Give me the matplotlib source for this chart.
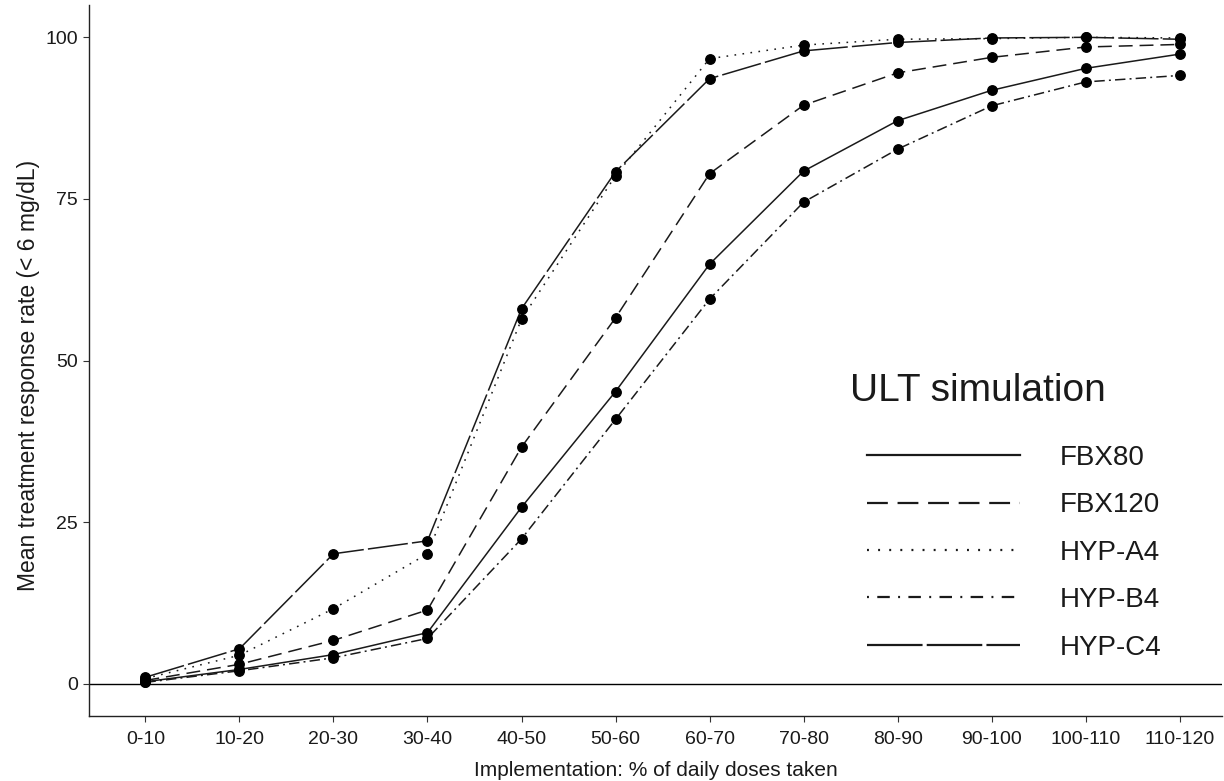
import matplotlib
matplotlib.use("Agg")
import matplotlib.pyplot as plt
from matplotlib.lines import Line2D

plt.rcParams["font.family"] = ["Liberation Sans", "DejaVu Sans"]
plt.rcParams["lines.scale_dashes"] = False

categories = ["0-10", "10-20", "20-30", "30-40", "40-50", "50-60",
              "60-70", "70-80", "80-90", "90-100", "100-110", "110-120"]

fbx80 = [0.3, 2.2, 4.5, 7.9, 27.3, 45.2, 64.9, 79.3, 87.1, 91.8, 95.2, 97.4]
fbx120 = [0.5, 3.0, 6.7, 11.4, 36.6, 56.6, 78.9, 89.5, 94.5, 96.9, 98.5, 98.9]
hyp_a4 = [0.8, 4.4, 11.6, 20.1, 56.4, 78.6, 96.7, 98.8, 99.7, 99.8, 100.0, 99.9]
hyp_b4 = [0.2, 2.0, 4.0, 7.0, 22.4, 40.9, 59.5, 74.5, 82.7, 89.4, 93.1, 94.1]
hyp_c4 = [1.0, 5.4, 20.1, 22.1, 58.0, 79.2, 93.6, 97.9, 99.2, 99.9, 100.0, 99.7]

series_names = ["FBX80", "FBX120", "HYP-A4", "HYP-B4", "HYP-C4"]
series_values = [fbx80, fbx120, hyp_a4, hyp_b4, hyp_c4]

# dash patterns (points, on/off)
dash_styles = [
    None,
    (0, (10, 5)),
    (0, (1.2, 4.6)),
    (0, (7.5, 3, 1.4, 3)),
    (0, (29, 3)),
]
legend_dash_styles = [
    None,
    (0, (15, 7)),
    (0, (1.4, 6.6)),
    (0, (1.4, 6, 9, 6)),
    (0, (40, 3)),
]

W, H = 1224, 781
fig = plt.figure(figsize=(W / 100, H / 100), dpi=100)
ax = fig.add_axes([89 / W, 65 / H, (1222 - 89) / W, (776 - 65) / H])

x = list(range(len(categories)))
lw = 1.1
for name, vals, ds in zip(series_names, series_values, dash_styles):
    ls = "-" if ds is None else ds
    ax.plot(x, vals, color="#1a1a1a", lw=lw, linestyle=ls, zorder=3)
    ax.plot(x, vals, linestyle="none", marker="o", markersize=6.8,
            color="black", zorder=4)

ax.axhline(0, color="black", lw=1.0, zorder=2)

ax.set_xlim(-0.6, 11.45)
ax.set_ylim(-5, 105)
ax.set_xticks(x)
ax.set_xticklabels(categories)
ax.set_yticks([0, 25, 50, 75, 100])

for s in ["top", "right"]:
    ax.spines[s].set_visible(False)
for s in ["left", "bottom"]:
    ax.spines[s].set_color("#222222")
    ax.spines[s].set_linewidth(1.0)

ax.tick_params(axis="both", length=4, width=0.8, color="#333333",
               labelsize=14, labelcolor="#1a1a1a", pad=4)
ax.tick_params(axis="x", pad=7)
ax.set_xlabel("Implementation: % of daily doses taken", fontsize=15,
              color="#1a1a1a", labelpad=9)
ax.set_ylabel("Mean treatment response rate (< 6 mg/dL)", fontsize=16.5,
              color="#1a1a1a")
ax.yaxis.set_label_coords(-(89 - 29) / (1222 - 89), (716 - 375) / (716 - 5))
ax.yaxis.label.set_va("center")

handles = []
for name, ds in zip(series_names, legend_dash_styles):
    ls = "-" if ds is None else ds
    handles.append(Line2D([0], [0], color="#1a1a1a", lw=1.6, linestyle=ls))

fig.text(850 / W, 1 - 391 / H, "ULT simulation", fontsize=28,
         color="#1a1a1a", ha="left", va="center")

leg = ax.legend(handles, series_names,
                loc="upper left", bbox_to_anchor=(867 / W, 1 - 445 / H),
                bbox_transform=fig.transFigure,
                frameon=False, fontsize=20,
                handlelength=5.5, handletextpad=1.44, labelspacing=0.77,
                borderpad=0, borderaxespad=0)
for t in leg.get_texts():
    t.set_color("#1a1a1a")

fig.savefig("out.png", dpi=100)
